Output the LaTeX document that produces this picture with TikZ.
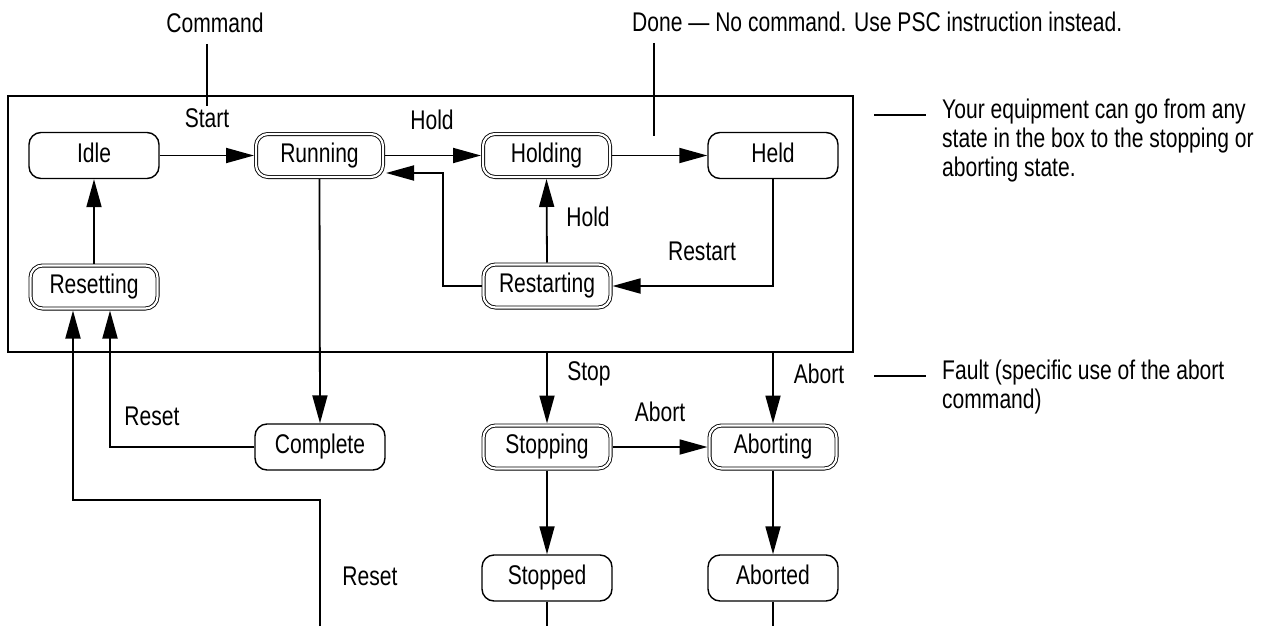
\documentclass[tikz,border=0pt]{standalone}
\usepackage{fontspec}
\setmainfont[FakeStretch=0.78]{Liberation Sans}
\usetikzlibrary{arrows.meta,calc}
\newcommand\diagfont{\fontsize{27}{29}\selectfont}
\tikzset{
  state/.style={draw, rounded corners=12pt, minimum width=130pt, minimum height=46pt,
    line width=1.4pt, inner sep=0pt, text height=19pt, text depth=6pt, font=\diagfont},
  dstate/.style={state, double, double distance=2.2pt, line width=0.9pt,
    minimum width=127pt, minimum height=43pt, outer sep=2pt},
  arr/.style={line width=1.8pt, -{Triangle[length=28pt,width=15pt]}},
  ln/.style={line width=1.8pt},
  lbl/.style={inner sep=0pt, font=\diagfont},
}
\begin{document}
\begin{tikzpicture}[x=1pt,y=-1pt]
\useasboundingbox (0,0) rectangle (1276,626);
% frame
\node[draw, line width=1.8pt, minimum width=845pt, minimum height=256pt, inner sep=0pt, outer sep=0pt, anchor=north west] (box) at (8,96) {};
% states
\node[state]  (idle)  at (94,155.5) {Idle};
\node[dstate] (run)   at (319.5,155.5) {Running};
\node[dstate] (hing)  at (546.5,155.5) {Holding};
\node[state]  (held)  at (773,155.5) {Held};
\node[dstate] (reset) at (94,287) {Resetting};
\node[dstate] (rest)  at (547,286) {Restarting};
\node[state]  (comp)  at (320,447) {Complete};
\node[dstate] (sting) at (547,447) {Stopping};
\node[dstate] (abing) at (773,447) {Aborting};
\node[state]  (sted)  at (547,578) {Stopped};
\node[state]  (abed)  at (773,578) {Aborted};
% labels
\node[lbl, anchor=base] (cmd) at (215,33) {Command};
\node[lbl, anchor=base west] (done) at (632,32) {Done \textemdash\ No command. Use PSC instruction instead.};
\node[lbl] (lstart) at (207,118) {Start};
\node[lbl] (lhold) at (432,120) {Hold};
\node[lbl] (lhold2) at (588,217) {Hold};
\node[lbl] (lrestart) at (702,251) {Restart};
\node[lbl] (lstop) at (589,374) {Stop};
\node[lbl] (labort) at (819,374) {Abort};
\node[lbl] (labort2) at (660,412) {Abort};
\node[lbl] (lreset) at (152,416) {Reset};
\node[lbl] (lreset2) at (370,576) {Reset};
\node[lbl, anchor=north west, align=left] (note1) at (942,99) {Your equipment can go from any\\state in the box to the stopping or\\aborting state.};
\node[lbl, anchor=north west, align=left] (note2) at (942,360) {Fault (specific use of the abort\\command)};
% pointer lines
\coordinate (cmdA) at (207,44);
\coordinate (cmdB) at (207,106);
\draw[ln] (cmdA) -- (cmdB);
\coordinate (doneA) at (654,43);
\coordinate (doneB) at (654,136);
\draw[ln] (doneA) -- (doneB);
\coordinate (n1a) at (874,115);
\coordinate (n1b) at (926,115);
\draw[ln] (n1a) -- (n1b);
\coordinate (n2a) at (874,376);
\coordinate (n2b) at (926,376);
\draw[ln] (n2a) -- (n2b);
% transitions
\draw[arr] (idle.east) -- (run.west);
\draw[arr] (run.east) -- (hing.west);
\draw[arr] (hing.east) -- (held.west);
\draw[arr] (reset.north) -- (idle.south);
\draw[arr] (held.south) |- (rest.east);
\draw[arr] (rest.north) -- (hing.south);
\coordinate (rk) at (443,173);
\draw[arr] (rest.west) -| (rk) -- ([xshift=1pt]run.east |- rk);
\draw[arr] (run.south) -- (comp.north);
\draw[arr] (comp.west) -| ([xshift=16pt]reset.south);
\coordinate (r0) at (320,626);
\coordinate (r1) at (320,500);
\draw[arr] (r0) -- (r1) -| ([xshift=-21pt]reset.south);
\draw[arr] (sting.north |- box.south) -- (sting.north);
\draw[arr] (abing.north |- box.south) -- (abing.north);
\draw[arr] (sting.east) -- (abing.west);
\draw[arr] (sting.south) -- (sted.north);
\draw[arr] (abing.south) -- (abed.north);
\coordinate (e1) at (547,626);
\coordinate (e2) at (773,626);
\draw[ln] (sted.south) -- (e1);
\draw[ln] (abed.south) -- (e2);
\end{tikzpicture}
\end{document}
